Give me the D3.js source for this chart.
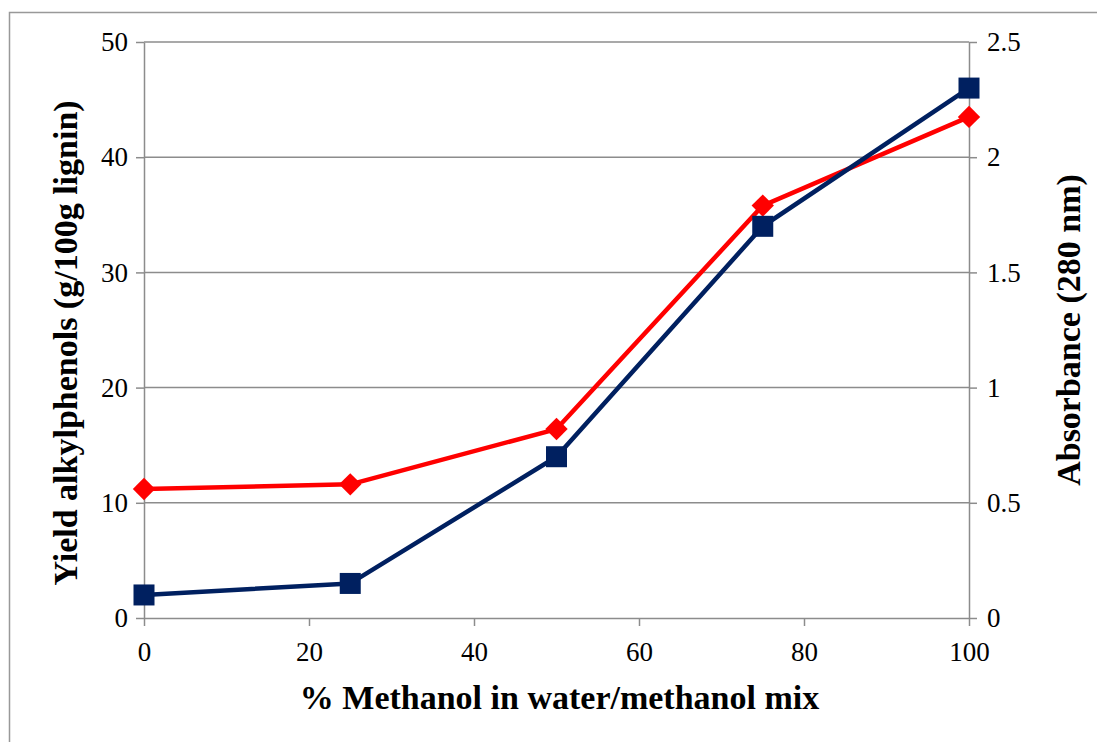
<!DOCTYPE html>
<html>
<head>
<meta charset="utf-8">
<script src="https://cdn.jsdelivr.net/npm/d3@7"></script>
<style>
body{margin:0;background:#fff;}
svg text{font-family:"Liberation Serif","Times New Roman",serif;}
</style>
</head>
<body>
<div class="chart"></div>
<script>
var width=1097,
    height=742;

var methanol=[0,25,50,75,100];
var yieldAlkyl=[2.0,3.0,14.0,34.0,46.0];
var absorbance=[0.56,0.58,0.82,1.79,2.175];
var xTicks=[0,20,40,60,80,100];
var leftTicks=[0,10,20,30,40,50];
var rightTicks=[0,0.5,1,1.5,2,2.5];

var margin={left:144,right:128,top:42,bottom:124};

var svg=d3.select('.chart')
    .append('svg')
        .attr('width',width)
        .attr('height',height);

svg.append('rect')
    .attr('x',9.5).attr('y',12.5)
    .attr('width',1100).attr('height',740)
    .attr('fill','none')
    .attr('stroke','#999')
    .attr('stroke-width',1.5);

var x=d3.scaleLinear().domain([0,100]).range([margin.left,width-margin.right]);
var yL=d3.scaleLinear().domain([0,50]).range([height-margin.bottom,margin.top]);
var yR=d3.scaleLinear().domain([0,2.5]).range([height-margin.bottom,margin.top]);

// gridlines
svg.append('g')
    .selectAll('line')
    .data(leftTicks.slice(1))
    .enter()
    .append('line')
    .attr('x1',x(0)).attr('x2',x(100))
    .attr('y1',d=>yL(d)).attr('y2',d=>yL(d))
    .attr('stroke','#8c8c8c')
    .attr('stroke-width',1.5);

function styleAxis(g){
    g.selectAll('path,line').attr('stroke','#8c8c8c').attr('stroke-width',1.5);
    g.selectAll('text').attr('font-size',27).attr('fill','#000')
        .attr('font-family','"Liberation Serif","Times New Roman",serif');
}

svg.append('g')
    .attr('transform',`translate(0,${yL(0)})`)
    .call(d3.axisBottom(x).tickValues(xTicks).tickSize(8).tickSizeOuter(0).tickPadding(16))
    .call(styleAxis);

svg.append('g')
    .attr('transform',`translate(${x(0)},0)`)
    .call(d3.axisLeft(yL).tickValues(leftTicks).tickSize(8).tickSizeOuter(0).tickPadding(8))
    .call(styleAxis);

svg.append('g')
    .attr('transform',`translate(${x(100)},0)`)
    .call(d3.axisRight(yR).tickValues(rightTicks).tickFormat(d3.format('')).tickSize(8).tickSizeOuter(0).tickPadding(10))
    .call(styleAxis);

// axis titles
svg.append('text')
    .attr('x',x(50)+3).attr('y',709)
    .attr('text-anchor','middle')
    .attr('font-size',34).attr('font-weight','bold')
    .text('% Methanol in water/methanol mix');

svg.append('text')
    .attr('transform',`translate(77,${(yL(0)+yL(50))/2+13}) rotate(-90)`)
    .attr('text-anchor','middle')
    .attr('font-size',34).attr('font-weight','bold')
    .text('Yield alkylphenols (g/100g lignin)');

svg.append('text')
    .attr('transform',`translate(1080,${(yL(0)+yL(50))/2}) rotate(-90)`)
    .attr('text-anchor','middle')
    .attr('font-size',34).attr('font-weight','bold')
    .text('Absorbance (280 nm)');

var blue='#002060', red='#ff0000';

var lineL=d3.line().x((d,i)=>x(methanol[i])).y(d=>yL(d));
var lineR=d3.line().x((d,i)=>x(methanol[i])).y(d=>yR(d));

svg.append('path')
    .datum(absorbance)
    .attr('d',lineR)
    .attr('fill','none').attr('stroke',red).attr('stroke-width',4.5)
    .attr('stroke-linejoin','round');

svg.append('path')
    .datum(yieldAlkyl)
    .attr('d',lineL)
    .attr('fill','none').attr('stroke',blue).attr('stroke-width',4.5)
    .attr('stroke-linejoin','round');

var diamond=d3.symbol().type(d3.symbolDiamond2).size(320);
svg.selectAll('.dia')
    .data(absorbance)
    .enter()
    .append('path')
    .classed('dia',true)
    .attr('d',diamond)
    .attr('transform',(d,i)=>`translate(${x(methanol[i])},${yR(d)})`)
    .attr('fill',red);

svg.selectAll('.sq')
    .data(yieldAlkyl)
    .enter()
    .append('rect')
    .classed('sq',true)
    .attr('x',(d,i)=>x(methanol[i])-10.5)
    .attr('y',d=>yL(d)-10.5)
    .attr('width',21).attr('height',21)
    .attr('fill',blue);
</script>
</body>
</html>
